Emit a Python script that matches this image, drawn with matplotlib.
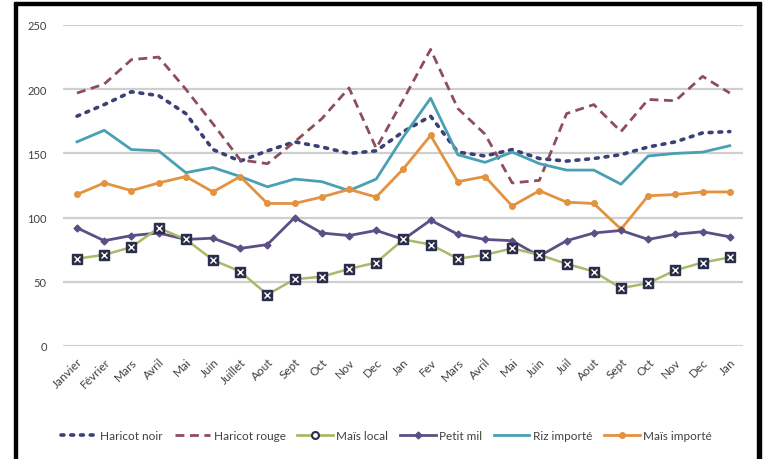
import matplotlib
matplotlib.use("Agg")
import matplotlib.pyplot as plt
from matplotlib.patches import Rectangle
from matplotlib.lines import Line2D
import numpy as np

months = ["Janvier", "Février", "Mars", "Avril", "Mai", "Juin", "Juillet", "Aout",
          "Sept", "Oct", "Nov", "Dec", "Jan", "Fev", "Mars", "Avril", "Mai", "Juin",
          "Juil", "Aout", "Sept", "Oct", "Nov", "Dec", "Jan"]

haricot_noir = [179, 188, 198, 195, 181, 153, 144, 152, 159, 155, 150, 152, 167,
                179, 151, 148, 153, 146, 144, 146, 149, 155, 159, 166, 167]
haricot_rouge = [197, 204, 223, 225, 200, 173, 145, 142, 159, 177, 201, 154, 192,
                 231, 185, 165, 127, 129, 181, 188, 167, 192, 191, 210, 197]
mais_local = [68, 71, 77, 92, 83, 67, 58, 40, 52, 54, 60, 65, 83,
              79, 68, 71, 76, 71, 64, 58, 45, 49, 59, 65, 69]
petit_mil = [92, 82, 86, 88, 83, 84, 76, 79, 100, 88, 86, 90, 83,
             98, 87, 83, 82, 70, 82, 88, 90, 83, 87, 89, 85]
riz_importe = [159, 168, 153, 152, 135, 139, 132, 124, 130, 128, 121, 130, 163,
               193, 149, 143, 151, 142, 137, 137, 126, 148, 150, 151, 156]
mais_importe = [118, 127, 121, 127, 132, 120, 132, 111, 111, 116, 122, 116, 138,
                164, 128, 132, 109, 121, 112, 111, 91, 117, 118, 120, 120]

y_ticks = [0, 50, 100, 150, 200, 250]

plt.rcParams["font.family"] = ["Lato", "DejaVu Sans"]

fig = plt.figure(figsize=(7.7, 4.6), dpi=100)
fig.patch.set_facecolor("white")
ax = fig.add_axes([63.4 / 770, 113 / 460, 680 / 770, 321 / 460])

x = np.arange(len(months))

ax.plot(x, haricot_noir, color="#3c4175", lw=2.6, linestyle=(0, (0.8, 1.9)),
        dash_capstyle="round", clip_on=False, zorder=3)
ax.plot(x, haricot_rouge, color="#8e4d5c", lw=2.0, linestyle=(0, (3.2, 2.0)),
        clip_on=False, zorder=3)
ax.plot(x, riz_importe, color="#48a0b4", lw=2.0, clip_on=False, zorder=3)
ax.plot(x, mais_importe, color="#e3923f", lw=2.0, marker="o", markersize=4,
        clip_on=False, zorder=3)
ax.plot(x, petit_mil, color="#5d4f86", lw=2.0, marker="D", markersize=3.5,
        clip_on=False, zorder=4)
ax.plot(x, mais_local, color="#a9b96a", lw=1.8, marker="s", markersize=7.5,
        markerfacecolor="#2b2e48", markeredgecolor="#2b2e48",
        clip_on=False, zorder=5)
ax.plot(x, mais_local, linestyle="none", marker="x", markersize=4,
        markeredgecolor="white", markeredgewidth=1.0, clip_on=False, zorder=6)

ax.set_xlim(-0.5, len(months) - 0.5)
ax.set_ylim(0, 250)
ax.set_yticks(y_ticks)
ax.set_yticklabels([str(v) for v in y_ticks], fontsize=8, color="#404040")
ax.set_xticks(x)
ax.set_xticklabels(months, rotation=45, ha="right", rotation_mode="anchor",
                   fontsize=8.5, color="#404040")
ax.tick_params(axis="both", length=0)
ax.tick_params(axis="y", pad=12)
ax.tick_params(axis="x", pad=7)
ax.grid(axis="y", color="#cfcfcf", lw=1.6)
ax.set_axisbelow(True)
for s in ax.spines.values():
    s.set_visible(False)

# legend entries
leg_handles = [
    Line2D([0, 1], [0, 0], color="#3c4175", lw=2.6, linestyle=(0, (0.8, 1.9)),
           dash_capstyle="round"),
    Line2D([0, 1], [0, 0], color="#8e4d5c", lw=2.0, linestyle=(0, (3.2, 2.0))),
    Line2D([0, 1], [0, 0], color="#a9b96a", lw=2.0, marker="o", markersize=5,
           markerfacecolor="white", markeredgecolor="#2b2e48", markeredgewidth=1.5),
    Line2D([0, 1], [0, 0], color="#5d4f86", lw=2.0, marker="D", markersize=3.5),
    Line2D([0, 1], [0, 0], color="#48a0b4", lw=2.0),
    Line2D([0, 1], [0, 0], color="#e3923f", lw=2.0, marker="o", markersize=4),
]
leg_labels = ["Haricot noir", "Haricot rouge", "Maïs local", "Petit mil",
              "Riz importé", "Maïs importé"]
fig.legend(leg_handles, leg_labels, loc="center", bbox_to_anchor=(0.502, 1 - 437 / 460),
           ncol=6, frameon=False, fontsize=8.5, handlelength=3.0, columnspacing=1.0,
           handletextpad=0.3, labelcolor="#404040")

# frame around the figure
fig.patches.append(Rectangle((14 / 770, -0.01), 3 / 770, 1.0, transform=fig.transFigure,
                             color="black", zorder=10))
fig.patches.append(Rectangle((14 / 770, 1 - 6 / 460), 747 / 770, 3 / 460,
                             transform=fig.transFigure, color="black", zorder=10))
fig.patches.append(Rectangle((757 / 770, -0.01), 4 / 770, 1.0, transform=fig.transFigure,
                             color="black", zorder=10))

fig.savefig("out.png", dpi=100)
